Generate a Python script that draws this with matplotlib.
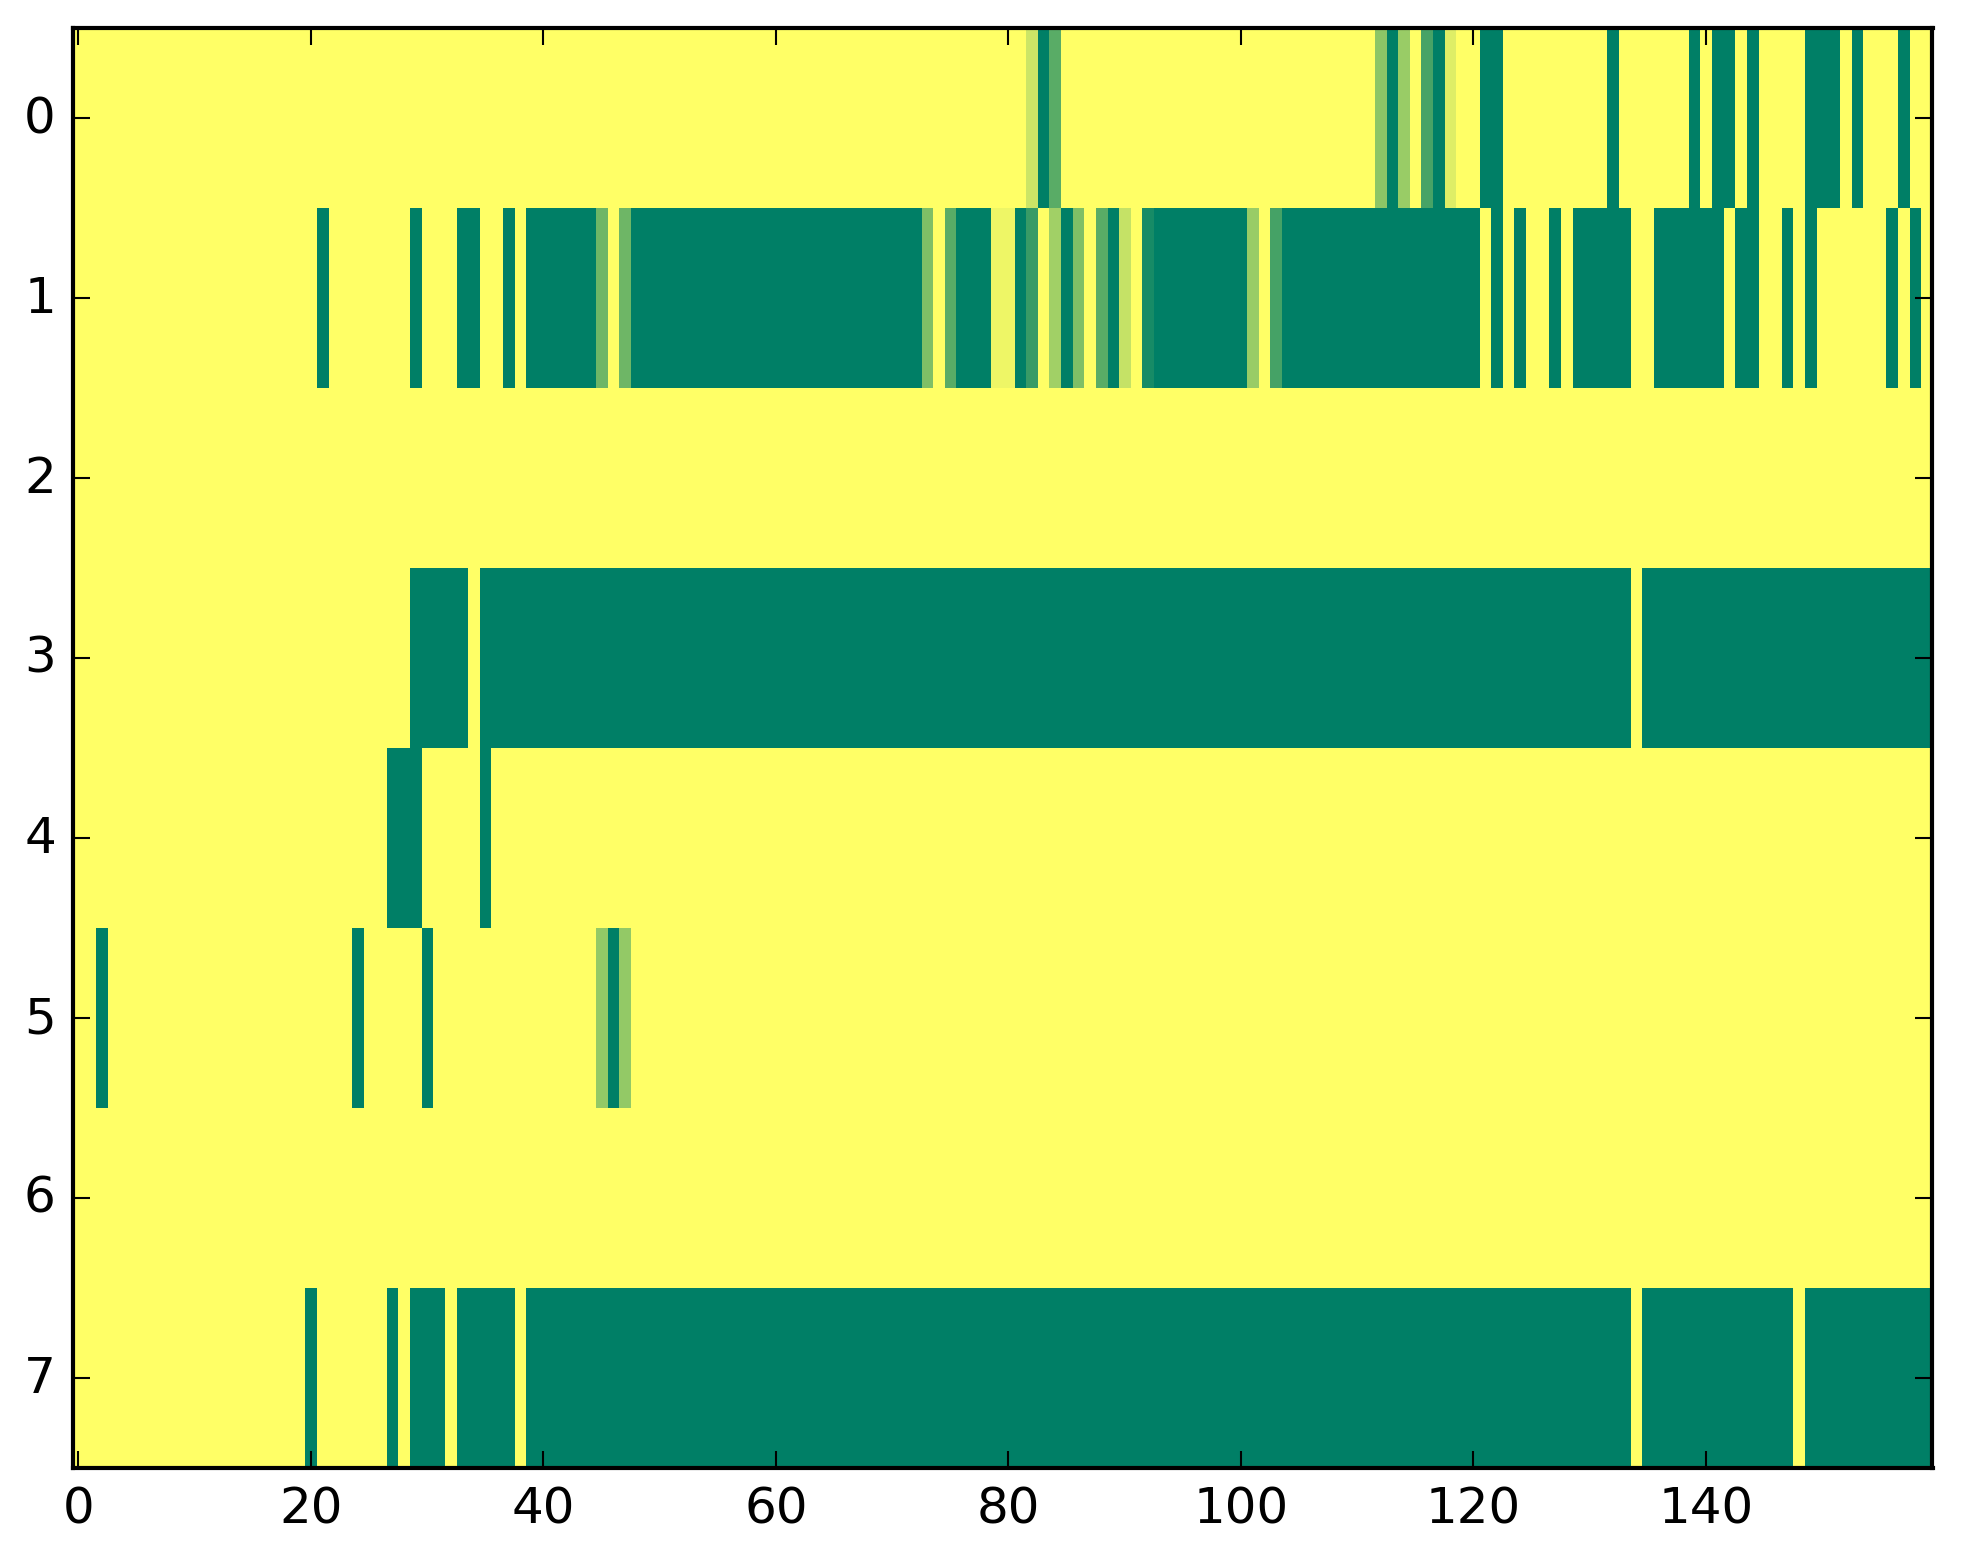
import numpy as np
import matplotlib
matplotlib.use('Agg')
from matplotlib import pyplot as plt

plt.style.use('classic')

n_rows = 8
n_cols = 160

# values per row: column -> value (everything else is 0)
row0 = {82: 0.2, 83: 1, 84: 0.65, 112: 0.45, 113: 1, 114: 0.4, 116: 0.72,
        117: 1, 118: 0.13, 121: 1, 122: 1, 132: 1, 139: 1, 141: 1, 142: 1,
        144: 1, 149: 1, 150: 1, 151: 1, 153: 1, 157: 1}

row1 = {21: 1, 29: 1, 33: 1, 34: 1, 37: 1, 45: 0.57, 47: 0.57,
        73: 0.5, 75: 0.65, 79: 0.07, 80: 0.07, 81: 1, 82: 0.78, 84: 0.37,
        85: 1, 86: 0.5, 88: 0.65, 89: 1, 90: 0.23, 92: 0.91, 101: 0.4,
        103: 0.73, 122: 1, 124: 1, 127: 1, 143: 1, 144: 1, 147: 1, 149: 1,
        156: 1, 158: 1}
row1_full = [(39, 45), (48, 73), (76, 79), (93, 101), (104, 121), (129, 134), (136, 142)]

row3_full = [(29, 34), (35, 134), (135, 160)]

row4 = {27: 1, 28: 1, 29: 1, 35: 1}

row5 = {2: 1, 24: 1, 30: 1, 45: 0.42, 46: 1, 47: 0.42}

row7 = {20: 1, 27: 1}
row7_full = [(29, 32), (33, 38), (39, 134), (135, 148), (149, 160)]

data = np.zeros((n_rows, n_cols))
for r, vals in [(0, row0), (1, row1), (4, row4), (5, row5), (7, row7)]:
    for c, v in vals.items():
        data[r, c] = v
for r, runs in [(1, row1_full), (3, row3_full), (7, row7_full)]:
    for a, b in runs:
        data[r, a:b] = 1

fig = plt.figure(figsize=(1963 / 300, 1564 / 300), dpi=300)
ax = fig.add_axes([72.5 / 1963, 95 / 1564, 1860 / 1963, 1440 / 1564])
ax.imshow(data, cmap='summer_r', vmin=0, vmax=1, aspect='auto',
          interpolation='nearest')

fig.savefig('out.png', dpi=300)
